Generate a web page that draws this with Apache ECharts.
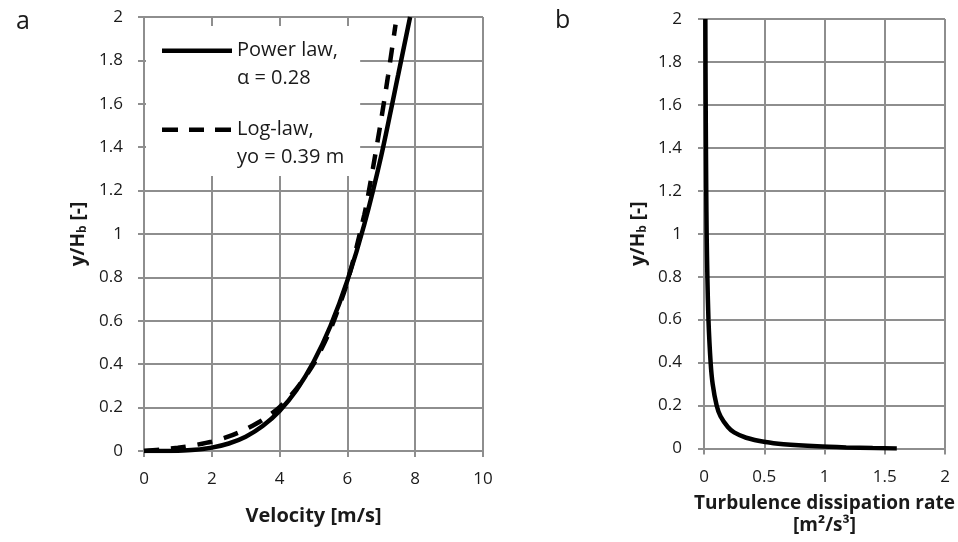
<!DOCTYPE html>
<html>
<head>
<meta charset="utf-8">
<script src="https://cdn.jsdelivr.net/npm/echarts@6/dist/echarts.min.js"></script>
<style>
  html, body { margin: 0; padding: 0; background: #fff; }
  #chart { width: 958px; height: 542px; }
</style>
</head>
<body>
<div id="chart"></div>
<script>
// Panel a: velocity profiles, velocity [m/s] against normalised height y/Hb
const powerLawVelocity = [0, 0.5, 1, 1.5, 2, 2.5, 3, 3.5, 4, 4.5, 5, 5.5, 6, 6.5, 7, 7.5, 7.85];
const powerLawHeight   = [0, 0.0001, 0.0013, 0.0056, 0.0155, 0.0345, 0.066, 0.115, 0.185, 0.281, 0.41, 0.576, 0.786, 1.045, 1.362, 1.735, 2.0];

const logLawVelocity = [0, 0.5, 1, 1.5, 2, 2.5, 3, 3.5, 4, 4.5, 5, 5.5, 6, 6.5, 6.75, 7, 7.2, 7.42];
const logLawHeight   = [0, 0.006, 0.015, 0.027, 0.043, 0.067, 0.10, 0.143, 0.202, 0.287, 0.40, 0.56, 0.78, 1.09, 1.30, 1.53, 1.73, 1.965];

// Panel b: turbulence dissipation rate [m²/s³] against y/Hb
const dissipationRate   = [1.6, 1.4, 1.18, 0.94, 0.66, 0.51, 0.35, 0.25, 0.198, 0.137, 0.105, 0.072, 0.055, 0.037, 0.028, 0.022, 0.0186, 0.015, 0.0128, 0.0112];
const dissipationHeight = [0, 0.002, 0.005, 0.01, 0.02, 0.03, 0.05, 0.075, 0.1, 0.15, 0.2, 0.3, 0.4, 0.6, 0.8, 1.0, 1.2, 1.5, 1.75, 2.0];

// Axis ranges and tick steps
const velocityAxis    = { min: 0, max: 10, interval: 2 };
const dissipationAxis = { min: 0, max: 2, interval: 0.5 };
const heightAxis      = { min: 0, max: 2, interval: 0.2 };

// Legend captions (two lines each)
const seriesNames = ['Power law', 'Log-law'];
const legendCaptions = {
  'Power law': 'Power law,\n\u03B1 = 0.28',
  'Log-law': 'Log-law,\nyo = 0.39 m'
};

// Legend swatches: a 70 x 55 box (two caption lines tall) with the line
// sample sitting level with the first caption line. The two specks in the
// corners only fix the box extent.
const BOX = 'M0,0h0.01v0.01h-0.01z M69.99,54.99h0.01v0.01h-0.01z ';
const legendIcons = {
  'Power law': 'path://' + BOX + 'M0,11.5h70v4.5h-70z',
  'Log-law': 'path://' + BOX + 'M0,11.5h16v4.5h-16z M27,11.5h15v4.5h-15z M53,11.5h16v4.5h-16z'
};

const pairs = (xs, ys) => xs.map((x, i) => [x, ys[i]]);

const FONT = '"Open Sans", "Noto Sans", sans-serif';
const GRID_GREY = '#8e8e8e';
const INK = '#1a1a1a';

function valueAxis(range, gridIndex, extra) {
  return Object.assign({
    type: 'value',
    gridIndex: gridIndex,
    min: range.min,
    max: range.max,
    interval: range.interval,
    axisLine: { show: true, onZero: false, lineStyle: { color: GRID_GREY, width: 2 } },
    axisTick: { show: true, length: 6, lineStyle: { color: GRID_GREY, width: 2 } },
    splitLine: { show: true, lineStyle: { color: GRID_GREY, width: 2 } },
    axisLabel: { color: INK, fontFamily: FONT, fontSize: 17 }
  }, extra);
}

const yName = 'y/H{sub|b} [-]';
const yNameStyle = {
  color: INK, fontFamily: FONT, fontSize: 19, fontWeight: 'bold',
  rich: {
    sub: { fontFamily: FONT, fontSize: 12, fontWeight: 'bold', color: INK, verticalAlign: 'bottom', padding: [8, 0, 0, 0] }
  }
};

const chart = echarts.init(document.getElementById('chart'), null, { renderer: 'canvas' });

chart.setOption({
  animation: false,
  backgroundColor: '#fff',
  title: [
    { text: 'a', left: 11, top: 4, textStyle: { fontFamily: FONT, fontSize: 25, fontWeight: 'normal', color: INK } },
    { text: 'b', left: 550, top: 3, textStyle: { fontFamily: FONT, fontSize: 25, fontWeight: 'normal', color: INK } }
  ],
  grid: [
    { left: 144, top: 17, width: 339, height: 434 },
    { left: 704, top: 19, width: 241, height: 429.5 }
  ],
  legend: {
    data: seriesNames.map(name => ({ name: name, icon: legendIcons[name] })),
    orient: 'vertical',
    left: 146,
    top: 26,
    itemWidth: 70,
    itemHeight: 55,
    itemGap: 24,
    selectedMode: false,
    backgroundColor: '#fff',
    padding: [11, 16, 5, 16],
    formatter: name => legendCaptions[name],
    textStyle: { fontFamily: FONT, fontSize: 20, lineHeight: 27.5, color: INK }
  },
  xAxis: [
    valueAxis(velocityAxis, 0, {
      axisLabel: { color: INK, fontFamily: FONT, fontSize: 17, margin: 20 },
      name: 'Velocity [m/s]',
      nameLocation: 'middle',
      nameGap: 55,
      nameTextStyle: { color: INK, fontFamily: FONT, fontSize: 20, fontWeight: 'bold' }
    }),
    valueAxis(dissipationAxis, 1, {
      axisLabel: { color: INK, fontFamily: FONT, fontSize: 17, margin: 20 },
      name: 'Turbulence dissipation rate\n[m\u00B2/s\u00B3]',
      nameLocation: 'middle',
      nameGap: 44,
      nameTextStyle: { color: INK, fontFamily: FONT, fontSize: 19, fontWeight: 'bold', lineHeight: 22 }
    })
  ],
  yAxis: [
    valueAxis(heightAxis, 0, {
      axisLabel: { color: INK, fontFamily: FONT, fontSize: 17, margin: 21 },
      name: yName, nameLocation: 'middle', nameGap: 55, nameTextStyle: yNameStyle
    }),
    valueAxis(heightAxis, 1, {
      axisLabel: { color: INK, fontFamily: FONT, fontSize: 17, margin: 22 },
      name: yName, nameLocation: 'middle', nameGap: 55, nameTextStyle: yNameStyle
    })
  ],
  series: [
    {
      name: 'Power law',
      type: 'line',
      xAxisIndex: 0, yAxisIndex: 0,
      data: pairs(powerLawVelocity, powerLawHeight),
      showSymbol: false, symbol: 'none',
      smooth: 0.25,
      lineStyle: { color: '#000', width: 4.5 },
      itemStyle: { color: '#000' },
      z: 3
    },
    {
      name: 'Log-law',
      type: 'line',
      xAxisIndex: 0, yAxisIndex: 0,
      data: pairs(logLawVelocity, logLawHeight),
      showSymbol: false, symbol: 'none',
      smooth: 0.25,
      lineStyle: { color: '#000', width: 4.5, type: [15, 12], cap: 'butt' },
      itemStyle: { color: '#000' },
      z: 4
    },
    {
      name: 'Dissipation',
      type: 'line',
      xAxisIndex: 1, yAxisIndex: 1,
      data: pairs(dissipationRate, dissipationHeight),
      showSymbol: false, symbol: 'none',
      smooth: 0.25,
      lineStyle: { color: '#000', width: 4.5 },
      itemStyle: { color: '#000' },
      z: 3
    }
  ]
});
</script>
</body>
</html>
